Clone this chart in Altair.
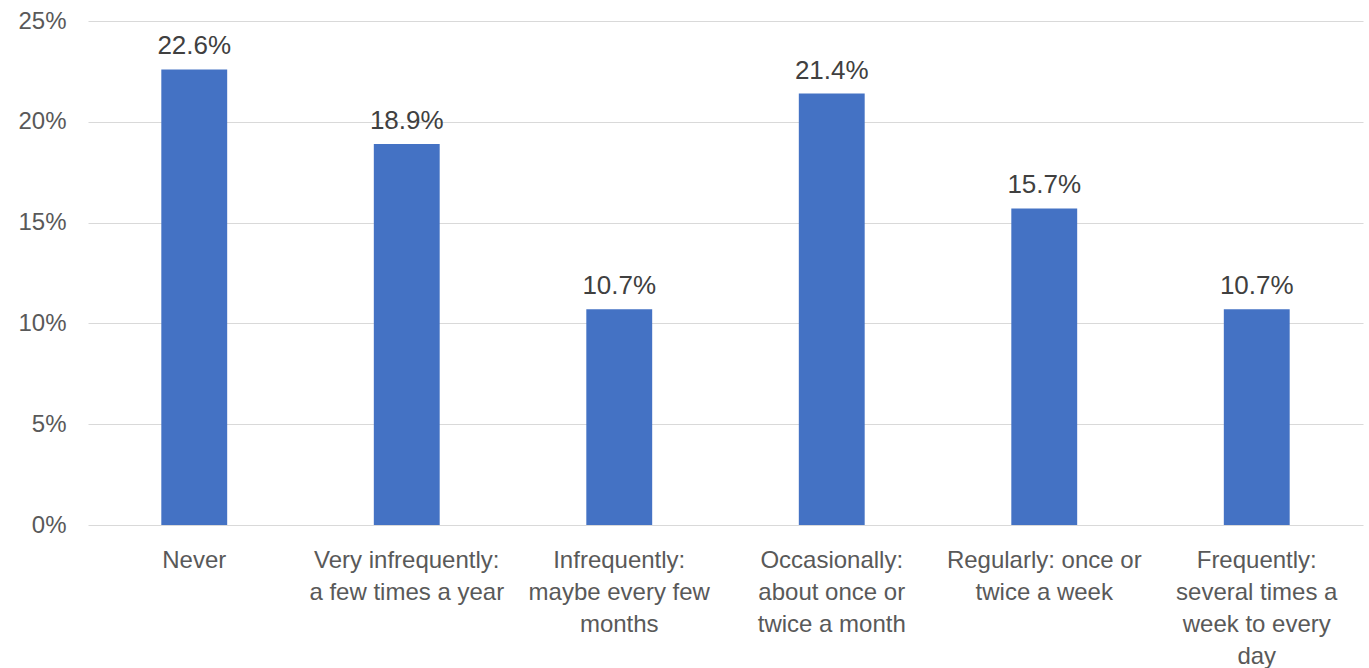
import altair as alt
import pandas as pd

# Survey response categories (axis labels split on "|" into lines)
categories = [
    "Never",
    "Very infrequently:|a few times a year",
    "Infrequently:|maybe every few|months",
    "Occasionally:|about once or|twice a month",
    "Regularly: once or|twice a week",
    "Frequently:|several times a|week to every|day",
]
shares = [22.6, 18.9, 10.7, 21.4, 15.7, 10.7]
y_ticks = [0, 5, 10, 15, 20, 25]

df = pd.DataFrame({"category": categories, "share": shares})
df["label"] = df["share"].map(lambda v: f"{v:.1f}%")

FONT = "Liberation Sans"

x = alt.X(
    "category:N",
    sort=categories,
    scale=alt.Scale(paddingInner=0.69, paddingOuter=0.345),
    axis=alt.Axis(
        title=None,
        labelExpr="split(datum.label, '|')",
        labelAngle=0,
        labelFont=FONT,
        labelFontSize=24,
        labelColor="#595959",
        labelLineHeight=32,
        labelPadding=23,
        labelBaseline="top",
        labelLimit=0,
        labelOverlap=False,
        ticks=False,
        domain=False,
        grid=False,
    ),
)

y = alt.Y(
    "share:Q",
    scale=alt.Scale(domain=[0, 25], nice=False),
    axis=alt.Axis(
        title=None,
        values=y_ticks,
        labelExpr="datum.value + '%'",
        labelFont=FONT,
        labelFontSize=24,
        labelColor="#595959",
        labelPadding=22,
        ticks=False,
        domain=False,
        grid=True,
        gridColor="#d9d9d9",
        gridWidth=1.2,
    ),
)

bars = alt.Chart(df).mark_bar(color="#4472C4").encode(x=x, y=y)

labels = alt.Chart(df).mark_text(
    font=FONT,
    fontSize=26,
    color="#404040",
    baseline="alphabetic",
    dy=-15,
).encode(x=alt.X("category:N", sort=categories), y="share:Q", text="label:N")

chart = (
    alt.layer(bars, labels)
    .properties(
        width=1275,
        height=504,
        background="white",
        autosize=alt.AutoSizeParams(type="none"),
        padding={"left": 88, "top": 21, "right": 6, "bottom": 143},
    )
    .configure_view(strokeWidth=0, stroke="transparent")
)

chart.save("out.html", embed_options={"renderer": "svg", "actions": False})
